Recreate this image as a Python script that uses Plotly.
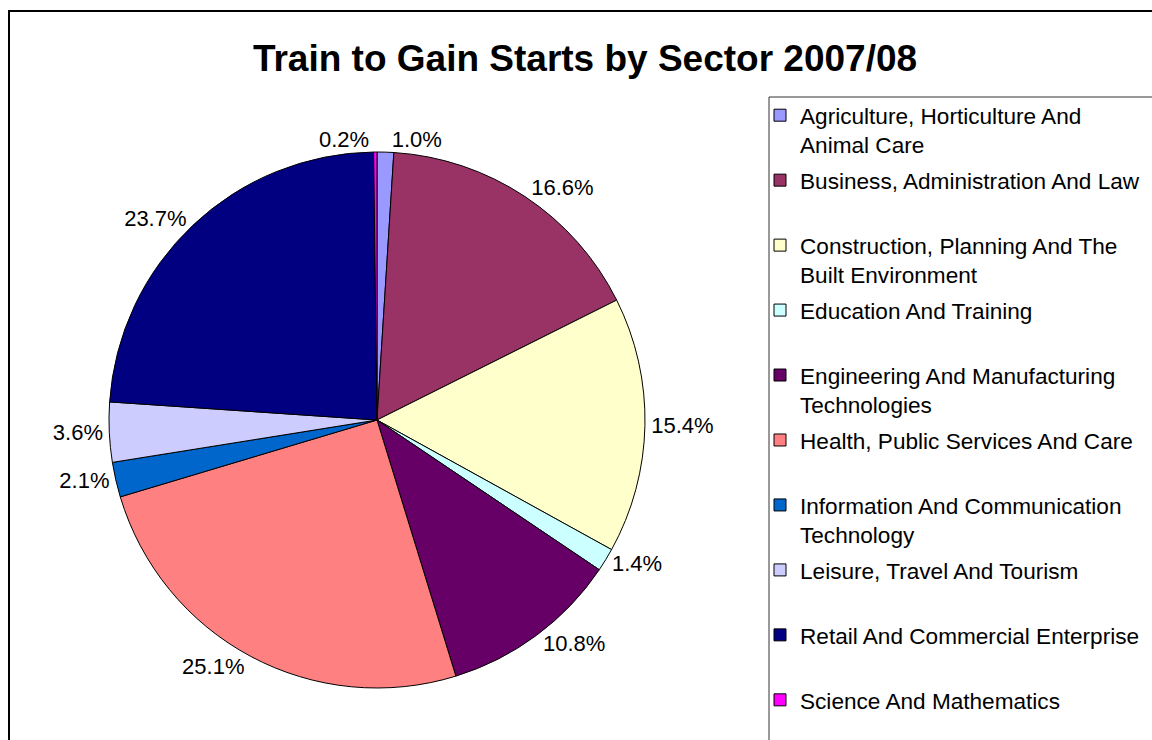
import plotly.graph_objects as go

# ---- data ----
categories = [
    "Agriculture, Horticulture And Animal Care",
    "Business, Administration And Law",
    "Construction, Planning And The Built Environment",
    "Education And Training",
    "Engineering And Manufacturing Technologies",
    "Health, Public Services And Care",
    "Information And Communication Technology",
    "Leisure, Travel And Tourism",
    "Retail And Commercial Enterprise",
    "Science And Mathematics",
]
legend_labels = [
    "Agriculture, Horticulture And<br>Animal Care",
    "Business, Administration And Law<br>\u00a0",
    "Construction, Planning And The<br>Built Environment",
    "Education And Training<br>\u00a0",
    "Engineering And Manufacturing<br>Technologies",
    "Health, Public Services And Care<br>\u00a0",
    "Information And Communication<br>Technology",
    "Leisure, Travel And Tourism<br>\u00a0",
    "Retail And Commercial Enterprise<br>\u00a0",
    "Science And Mathematics",
]
share_pct = [1.0, 16.6, 15.4, 1.4, 10.8, 25.1, 2.1, 3.6, 23.7, 0.2]
colors = ["#9999FF", "#993366", "#FFFFCC", "#CCFFFF", "#660066",
          "#FF8080", "#0066CC", "#CCCCFF", "#000080", "#FF00FF"]
title_text = "Train to Gain Starts by Sector 2007/08"

FONT = "Liberation Sans, Arial, sans-serif"
W, H = 1152, 740

def px(x):
    return x / W

def py(y):
    return 1 - y / H

fig = go.Figure()

fig.add_trace(go.Pie(
    labels=categories,
    values=share_pct,
    sort=False,
    direction="clockwise",
    rotation=0,
    marker=dict(colors=colors, line=dict(color="black", width=1)),
    textposition="outside",
    texttemplate="%{value:.1f}%",
    textfont=dict(family=FONT, size=22, color="black"),
    showlegend=False,
    domain=dict(x=[px(109), px(645)], y=[py(688), py(152)]),
))

for i, (lab, col) in enumerate(zip(legend_labels, colors)):
    fig.add_trace(go.Scatter(
        x=[None], y=[None], mode="markers", name=lab,
        legendgroup=f"g{i}", showlegend=True, hoverinfo="skip",
        marker=dict(symbol="square", size=12, color=col,
                    line=dict(color="black", width=1)),
    ))

fig.update_layout(
    width=W, height=H,
    margin=dict(l=0, r=0, t=0, b=0),
    paper_bgcolor="white", plot_bgcolor="white",
    font=dict(family=FONT, color="black"),
    title=dict(text=title_text, x=px(585), y=py(58.5), xanchor="center",
               yanchor="middle",
               font=dict(family=FONT, size=37, color="black", weight="bold")),
    xaxis=dict(visible=False), yaxis=dict(visible=False),
    legend=dict(x=px(760), y=py(94), xanchor="left", yanchor="top",
                bgcolor="rgba(0,0,0,0)", borderwidth=0,
                font=dict(family=FONT, size=22.6, color="black"),
                valign="top", traceorder="grouped", tracegroupgap=3.2),
    shapes=[
        dict(type="rect", xref="paper", yref="paper",
             x0=px(9), y0=py(11), x1=1.2, y1=-0.2,
             line=dict(color="black", width=2), fillcolor="rgba(0,0,0,0)"),
        dict(type="rect", xref="paper", yref="paper",
             x0=px(769), y0=py(97), x1=1.2, y1=-0.2,
             line=dict(color="#333333", width=1), fillcolor="rgba(0,0,0,0)"),
    ],
)

fig.write_html("out.html",
               config={"displayModeBar": False},
               post_script="document.body.style.margin='0';document.body.style.overflow='hidden';")
